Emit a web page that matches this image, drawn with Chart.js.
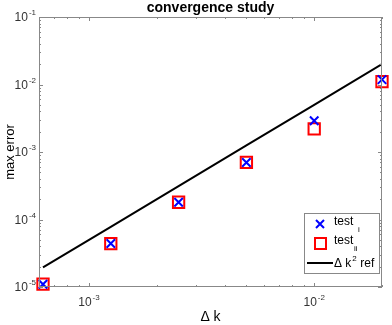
<!DOCTYPE html>
<html>
<head>
<meta charset="utf-8">
<script src="https://cdn.jsdelivr.net/npm/chart.js@4.4.0/dist/chart.umd.min.js"></script>
<style>
  html, body { margin: 0; padding: 0; background: #fff; }
  #wrap { width: 392px; height: 325px; }
</style>
</head>
<body>
<div id="wrap"><canvas id="conv-chart" width="392" height="325"></canvas></div>
<script>
// step sizes and errors
var dk = [0.000625, 0.00125, 0.0025, 0.005, 0.01, 0.02];
var errTestI = [1.1e-5, 4.4e-5, 1.8e-4, 7.0e-4, 2.9e-3, 1.18e-2];
var errTestII = [1.1e-5, 4.4e-5, 1.8e-4, 7.0e-4, 2.2e-3, 1.1e-2];
var errRef = [1.95e-5, 7.8e-5, 3.125e-4, 1.25e-3, 5.0e-3, 2.0e-2];

// axis ticks
var xMajorTicks = [1e-3, 1e-2];
var xTickExp = ['-3', '-2'];
var yMajorTicks = [1e-5, 1e-4, 1e-3, 1e-2, 1e-1];
var yTickExp = ['-5', '-4', '-3', '-2', '-1'];

var axisColor = '#888888';
var fontFam = '"Liberation Sans", Arial, sans-serif';

function pts(xs, ys) {
  return xs.map(function (x, i) { return { x: x, y: ys[i] }; });
}

// minor log ticks between min and max
function logTicks(min, max) {
  var out = [];
  for (var e = Math.floor(Math.log10(min)); e <= Math.ceil(Math.log10(max)); e++) {
    for (var m = 1; m <= 9; m++) {
      var v = m * Math.pow(10, e);
      if (v >= min * 0.999 && v <= max * 1.001) out.push({ v: v, major: m === 1 });
    }
  }
  return out;
}

function powLabel(ctx, base, exp, x, y, align) {
  ctx.font = '12px ' + fontFam;
  var wb = ctx.measureText(base).width;
  ctx.font = '8px ' + fontFam;
  var we = ctx.measureText(exp).width;
  var total = wb + we + 1;
  var x0 = align === 'right' ? x - total : x - total / 2;
  ctx.textAlign = 'left';
  ctx.textBaseline = 'middle';
  ctx.font = '12px ' + fontFam;
  ctx.fillText(base, x0, y);
  ctx.font = '8px ' + fontFam;
  ctx.fillText(exp, x0 + wb + 1, y - 5);
}

var matlabAxes = {
  id: 'matlabAxes',
  afterDraw: function (chart) {
    var ctx = chart.ctx;
    var a = chart.chartArea;
    var xs = chart.scales.x, ys = chart.scales.y;
    ctx.save();

    // box
    ctx.strokeStyle = axisColor;
    ctx.lineWidth = 1;
    ctx.strokeRect(a.left + 0.5, a.top + 0.5, a.right - a.left - 1, a.bottom - a.top - 1);

    // inner ticks
    ctx.beginPath();
    logTicks(xs.min, xs.max).forEach(function (t) {
      var px = Math.round(xs.getPixelForValue(t.v)) + 0.5;
      var len = t.major ? 4 : 2;
      ctx.moveTo(px, a.bottom); ctx.lineTo(px, a.bottom - len);
      ctx.moveTo(px, a.top); ctx.lineTo(px, a.top + len);
    });
    logTicks(ys.min, ys.max).forEach(function (t) {
      var py = Math.round(ys.getPixelForValue(t.v)) + 0.5;
      var len = t.major ? 4 : 2;
      ctx.moveTo(a.left, py); ctx.lineTo(a.left + len, py);
      ctx.moveTo(a.right, py); ctx.lineTo(a.right - len, py);
    });
    ctx.stroke();

    // tick labels
    ctx.fillStyle = '#333';
    xMajorTicks.forEach(function (v, i) {
      powLabel(ctx, '10', xTickExp[i], xs.getPixelForValue(v), a.bottom + 16, 'center');
    });
    yMajorTicks.forEach(function (v, i) {
      powLabel(ctx, '10', yTickExp[i], a.left - 3, ys.getPixelForValue(v) + 1, 'right');
    });

    // title and axis labels
    ctx.fillStyle = '#000';
    ctx.textAlign = 'center';
    ctx.textBaseline = 'middle';
    ctx.font = 'bold 14px ' + fontFam;
    ctx.fillText('convergence study', (a.left + a.right) / 2, 8);
    ctx.font = '14px ' + fontFam;
    ctx.fillText('\u0394 k', (a.left + a.right) / 2, 317);
    ctx.font = '13px ' + fontFam;
    ctx.save();
    ctx.translate(10, (a.top + a.bottom) / 2);
    ctx.rotate(-Math.PI / 2);
    ctx.fillText('max error', 0, 0);
    ctx.restore();

    // legend
    var lx = 304, ly = 213, lw = 75, lh = 60;
    ctx.fillStyle = '#fff';
    ctx.fillRect(lx, ly, lw, lh);
    ctx.strokeStyle = axisColor;
    ctx.strokeRect(lx + 0.5, ly + 0.5, lw, lh);

    ctx.lineWidth = 2;
    ctx.strokeStyle = '#0000ff';
    ctx.beginPath();
    ctx.moveTo(316, 220); ctx.lineTo(324, 228);
    ctx.moveTo(324, 220); ctx.lineTo(316, 228);
    ctx.stroke();
    ctx.strokeStyle = '#ff0000';
    ctx.strokeRect(315, 238, 11, 11);
    ctx.strokeStyle = '#000';
    ctx.beginPath();
    ctx.moveTo(307, 263); ctx.lineTo(333, 263);
    ctx.stroke();

    ctx.fillStyle = '#000';
    ctx.textAlign = 'left';
    ctx.textBaseline = 'middle';
    ctx.font = '12px ' + fontFam;
    ctx.fillText('test', 334, 222);
    ctx.fillText('test', 334, 241);
    ctx.fillText('\u0394 k', 334, 264);
    var wk = ctx.measureText('\u0394 k').width;
    ctx.fillText('ref', 334 + wk + 9, 264);
    ctx.font = '8px ' + fontFam;
    ctx.fillText('i', 358, 230);
    ctx.fillText('ii', 354, 249);
    ctx.fillText('2', 334 + wk + 1, 259);
    ctx.restore();
  }
};

new Chart(document.getElementById('conv-chart'), {
  type: 'scatter',
  data: {
    datasets: [{
      label: 'test_i',
      data: pts(dk, errTestI),
      pointStyle: 'crossRot',
      pointRadius: 6,
      borderColor: '#0000ff',
      borderWidth: 2,
      clip: false
    }, {
      label: 'test_ii',
      data: pts(dk, errTestII),
      pointStyle: 'rect',
      pointRadius: 8,
      backgroundColor: 'rgba(0,0,0,0)',
      borderColor: '#ff0000',
      borderWidth: 2,
      clip: false
    }, {
      label: '\u0394 k^2 ref',
      data: pts(dk, errRef),
      showLine: true,
      pointRadius: 0,
      borderColor: '#000000',
      borderWidth: 2
    }]
  },
  options: {
    responsive: false,
    animation: false,
    layout: { padding: { left: 39, right: 6, top: 17, bottom: 38 } },
    plugins: {
      legend: { display: false },
      title: { display: false },
      tooltip: { enabled: false }
    },
    scales: {
      x: { type: 'logarithmic', min: 0.000625, max: 0.02, display: false },
      y: { type: 'logarithmic', min: 1e-5, max: 1e-1, display: false }
    }
  },
  plugins: [matlabAxes]
});
</script>
</body>
</html>
